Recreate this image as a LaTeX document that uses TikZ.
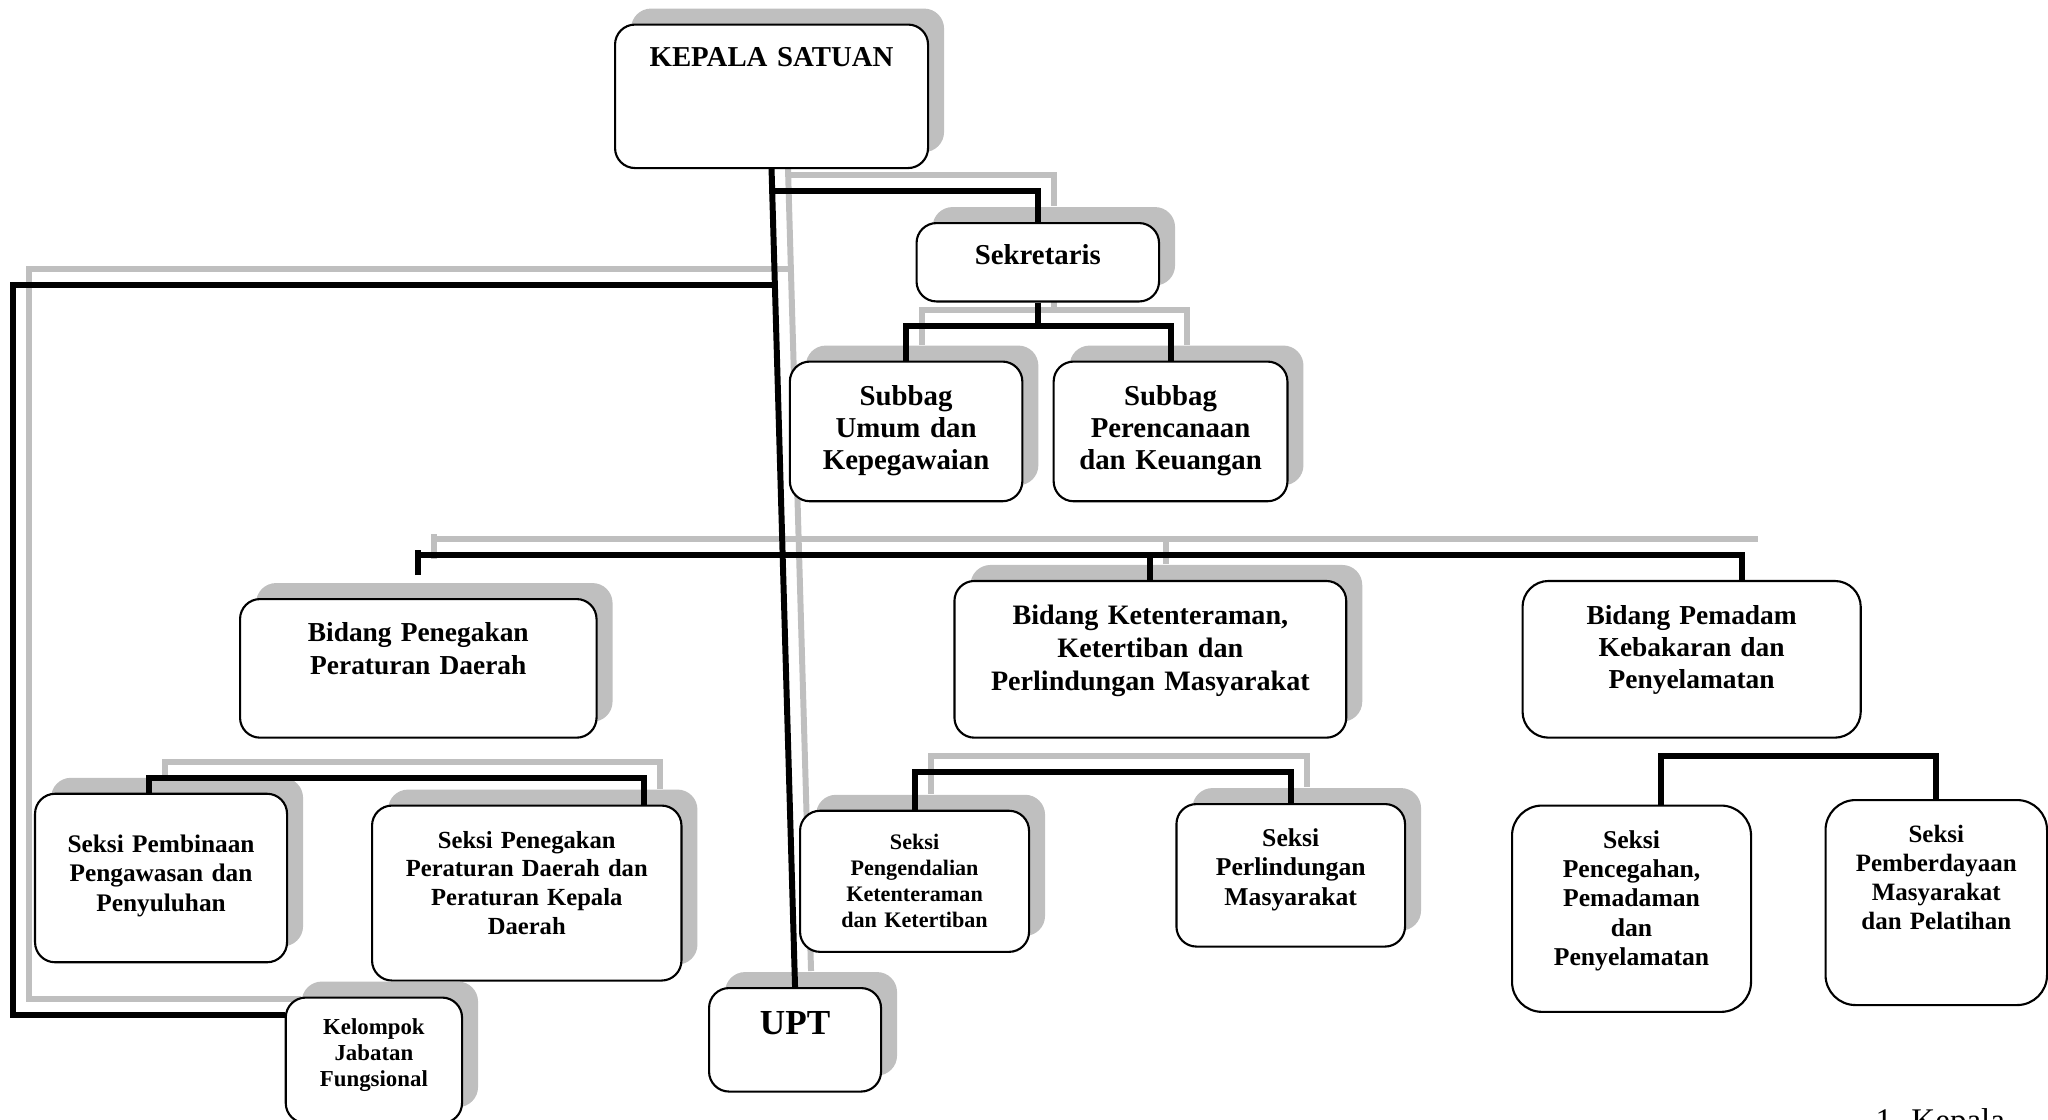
\documentclass[tikz,border=0pt]{standalone}
\usepackage{fontspec}
\setmainfont{Liberation Serif}
\usetikzlibrary{positioning, calc, shadows, backgrounds}
\definecolor{shadowgray}{RGB}{191,191,191}

\begin{document}
\begin{tikzpicture}[
    box/.style={draw, fill=white, line width=0.6pt, rounded corners=0.2cm,
      align=center, anchor=north west, inner ysep=0pt, inner xsep=0.05cm},
    shadowbox/.style={box, general shadow={fill=shadowgray,
      shadow xshift=0.16cm, shadow yshift=0.16cm}},
    wd/.style={minimum width=#1cm, text width=#1cm-0.1cm},
    tx/.style 2 args={text height=#1cm, text depth=#2cm},
    fs/.style 2 args={font=\bfseries\fontsize{#1}{#2}\selectfont},
    link/.style={draw=black, line width=1.7pt},
    glink/.style={draw=shadowgray, line width=1.7pt}]
  \useasboundingbox (0,0) rectangle (20.48,-11.19);

  \node[shadowbox, wd=3.13, tx={0.42}{1.015}, fs={8.2}{10}] (kepala) at (6.14,-0.235) {KEPALA SATUAN};
  \node[shadowbox, wd=2.425, tx={0.41}{0.374}, fs={8.2}{10}] (sek) at (9.155,-2.22) {Sekretaris};
  \node[shadowbox, wd=2.325, tx={0.435}{0.962}, fs={8.2}{9.1}] (sbu) at (7.888,-3.605) {Subbag\\Umum dan\\Kepegawaian};
  \node[shadowbox, wd=2.338, tx={0.435}{0.962}, fs={8.2}{9.1}] (sbp) at (10.526,-3.605) {Subbag\\Perencanaan\\dan Keuangan};

  \node[shadowbox, wd=3.565, tx={0.426}{0.96}, fs={7.8}{9.3}] (bpp) at (2.39,-5.98) {Bidang Penegakan\\Peraturan Daerah};
  \node[shadowbox, wd=3.918, tx={0.439}{1.128}, fs={8}{9.3}] (bk) at (9.534,-5.799) {Bidang Ketenteraman,\\Ketertiban dan\\Perlindungan Masyarakat};
  \node[box, rounded corners=0.26cm, wd=3.382, tx={0.437}{1.13}, fs={7.8}{9.1}] (bpm) at (15.215,-5.799) {Bidang Pemadam\\Kebakaran dan\\Penyelamatan};

  \node[shadowbox, wd=2.52, tx={0.583}{1.102}, fs={7.2}{8.4}] (spb) at (0.34,-7.927) {Seksi Pembinaan\\Pengawasan dan\\Penyuluhan};
  \node[shadowbox, wd=3.094, tx={0.425}{1.325}, fs={7}{8.2}] (spn) at (3.71,-8.045) {Seksi Penegakan\\Peraturan Daerah dan\\Peraturan Kepala\\Daerah};
  \node[shadowbox, wd=2.29, tx={0.383}{1.028}, fs={6.3}{7.4}] (spg) at (7.99,-8.097) {Seksi\\Pengendalian\\Ketenteraman\\dan Ketertiban};
  \node[shadowbox, wd=2.286, tx={0.42}{1.005}, fs={7.3}{8.4}] (spl) at (11.754,-8.03) {Seksi\\Perlindungan\\Masyarakat};
  \node[box, rounded corners=0.3cm, wd=2.39, tx={0.43}{1.633}, fs={7.3}{8.3}] (spc) at (15.11,-8.045) {Seksi\\Pencegahan,\\Pemadaman\\dan\\Penyelamatan};
  \node[box, rounded corners=0.3cm, wd=2.215, tx={0.427}{1.623}, fs={7.1}{8.2}] (spd) at (18.245,-7.99) {Seksi\\Pemberdayaan\\Masyarakat\\dan Pelatihan};

  \node[shadowbox, wd=1.763, tx={0.365}{0.89}, fs={6.5}{7.4}] (kjf) at (2.847,-9.965) {Kelompok\\Jabatan\\Fungsional};
  \node[shadowbox, wd=1.72, tx={0.46}{0.575}, fs={10}{12}] (upt) at (7.08,-9.87) {UPT};

  \node[anchor=base west, inner sep=0pt, font=\fontsize{9.4}{11}\selectfont] (note) at (18.75,-11.31) {1. Kepala};

  \coordinate (ks) at ($(kepala.south)!0.027!(upt.north)$);
  \coordinate (jf) at ($(kepala.south)!0.142!(upt.north)$);
  \coordinate (bus) at ($(kepala.south)!0.472!(upt.north)$);
  \coordinate (lx) at (0.13,0);
  \coordinate (bpmtop) at ([xshift=0.5cm]bpm.north);
  \coordinate (kjfin) at ([yshift=-0.185cm]kjf.north west);

  \begin{pgfonlayer}{background}
  \begin{scope}[transform canvas={shift={(0.16,0.16)}}]
    \draw[glink] (kepala.south) -- (upt.north);
    \draw[glink] (ks) -| (sek.north);
    \draw[glink] (sek.south) -- ++(0,-0.236) coordinate (gsbb);
    \draw[glink] (sbu.north) |- (gsbb) -| (sbp.north);
    \draw[glink] (jf) -- (jf -| lx) |- (kjfin);
    \draw[glink] ([yshift=0.23cm]bpp.north) -- ($(bpp.north |- bus)+(0,0.05)$);
    \draw[glink] (bpp.north |- bus) -- (bpmtop |- bus);
    \draw[glink] (bk.north |- bus) -- (bk.north);
    \draw[glink] ([xshift=-0.124cm]spb.north) -- ++(0,0.143) -| ([xshift=1.168cm]spn.north);
    \draw[glink] (spg.north) -- ++(0,0.379) -| (spl.north);
  \end{scope}
  \end{pgfonlayer}

  \draw[link] (kepala.south) -- (upt.north);
  \draw[link] ([xshift=-0.03cm]ks) -| (sek.north);
  \draw[link] (sek.south) -- ++(0,-0.236) coordinate (sbb);
  \draw[link] (sbu.north) |- (sbb) -| (sbp.north);
  \draw[link] (jf) -- (jf -| lx) |- (kjfin);
  \draw[link] ([yshift=0.23cm]bpp.north) -- ($(bpp.north |- bus)+(0,0.05)$);
  \draw[link] (bpp.north |- bus) -- (bpmtop |- bus) -- (bpmtop);
  \draw[link] (bk.north |- bus) -- (bk.north);
  \draw[link] ([xshift=-0.124cm]spb.north) -- ++(0,0.143) -| ([xshift=1.168cm]spn.north);
  \draw[link] (spg.north) -- ++(0,0.379) -| (spl.north);
  \draw[link] ([xshift=0.295cm]spc.north) -- ++(0,0.483) -| (spd.north);
\end{tikzpicture}
\end{document}
